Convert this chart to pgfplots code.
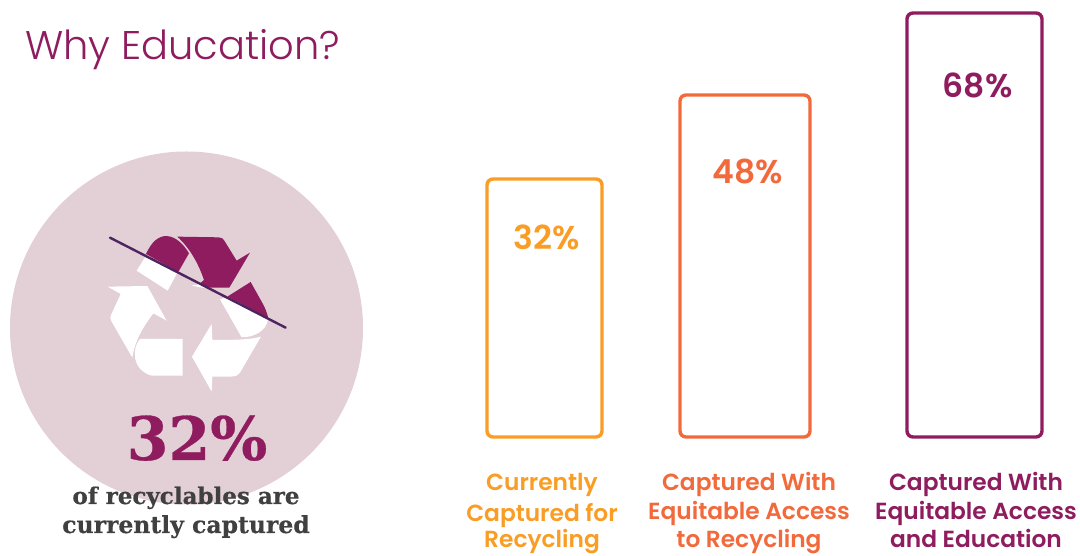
\documentclass[border=0pt]{standalone}
\usepackage{pgfplots}
\pgfplotsset{compat=1.18}
\usepackage{fontspec}
\setmainfont{Poppins}[UprightFont=* Light,BoldFont=* SemiBold]
\newfontfamily\serifbold{DejaVu Serif}[BoldFont=* Bold,BoldFeatures={FakeBold=0.5}]
\definecolor{plum}{HTML}{8E1C5E}
\definecolor{pale}{HTML}{E3CFD6}
\definecolor{amber}{HTML}{F99D25}
\definecolor{tang}{HTML}{F26A3B}
\definecolor{slashc}{HTML}{4F2360}
\definecolor{greyt}{HTML}{404040}
\newcommand{\px}[1]{\fontsize{#1}{#1}\selectfont}
\begin{document}
\begin{tikzpicture}[x=1pt,y=1pt]
\clip (0,0) rectangle (1080,556);
\fill[white] (0,0) rectangle (1080,556);
\begin{scope}[shift={(0pt,556pt)},x=1pt,y=-1pt]
\fill[pale] (186.5,328) circle (176.5);
\begin{scope}[shift={(90,220)},x=0.3333pt,y=-0.3333pt]
\fill[white] (53,200) -- (172,198) -- (230,302) -- (190,280) .. controls (160,320) and (135,360) .. (127,413) -- (65,305) .. controls (60,295) and (60,290) .. (63,285) -- (92,222) -- cycle;
\fill[white] (278,357) -- (150,357) .. controls (125,385) and (125,450) .. (185,467) -- (278,467) -- cycle;
\fill[white] (513,350) .. controls (480,360) and (420,360) .. (367,360) -- (365,312) -- (306,410) -- (365,515) -- (367,470) -- (420,470) .. controls (440,470) and (445,465) .. (450,458) -- cycle;
\fill[plum] (412,230) -- (482,186) -- (515,245) .. controls (525,262) and (532,280) .. (535,295) -- cycle;
\fill[white] (390,238) -- (412,230) -- (535,295) .. controls (530,335) and (490,352) .. (455,352) -- cycle;
\fill[plum] (262,50) -- (385,52) .. controls (395,52) and (400,56) .. (403,62) -- (440,122) -- (480,98) -- (418,203) -- (355,203) -- (330,190) -- (342,180) .. controls (325,130) and (300,85) .. (262,50) -- cycle;
\fill[white] (305,197) -- (332,192) -- (350,205) -- cycle;
\fill[plum] (168,102) .. controls (185,65) and (205,48) .. (230,48) .. controls (262,50) and (285,80) .. (297,100) -- (265,156) -- cycle;
\fill[white] (165,112) -- (140,152) -- (233,212) -- (262,158) -- cycle;
\draw[slashc,line width=2.4pt,line cap=round] (60,53) -- (587,323);
\end{scope}
\node[anchor=base west,text=plum,inner sep=0pt] at (25,60) {\px{40}Why Education?};
\node[anchor=base,text=plum,inner sep=0pt] at (197,460) {\serifbold\bfseries\px{60}32\%};
\node[anchor=base,text=greyt,inner sep=0pt] at (186,504) {\serifbold\bfseries\px{23}of recyclables are};
\node[anchor=base,text=greyt,inner sep=0pt] at (186,533) {\serifbold\bfseries\px{23.5}currently captured};
\end{scope}
\begin{axis}[at={(0,0)},anchor=south west,width=1080pt,height=556pt,scale only axis,hide axis,
  xmin=0,xmax=1080,ymin=-119,ymax=437,clip=false,
  ybar,bar shift=0pt,
  point meta=explicit symbolic,nodes near coords,
  every node near coord/.style={anchor=north,inner sep=0pt,font=\bfseries\px{33}}]
\addplot[draw=amber,fill=none,line width=3.4pt,rounded corners=6pt,bar width=115pt,
  every node near coord/.append style={text=amber,yshift=-44pt,xshift=2pt}]
  coordinates {(544.5,258) [32\%]};
\addplot[draw=tang,fill=none,line width=3.4pt,rounded corners=6pt,bar width=130pt,
  every node near coord/.append style={text=tang,yshift=-62pt,xshift=3pt}]
  coordinates {(745,342) [48\%]};
\addplot[draw=plum,fill=none,line width=3.4pt,rounded corners=6pt,bar width=135pt,
  every node near coord/.append style={text=plum,yshift=-58pt,xshift=3pt}]
  coordinates {(974.5,424) [68\%]};
\end{axis}
\begin{scope}[shift={(0pt,556pt)},x=1pt,y=-1pt,every node/.style={anchor=base,inner sep=0pt}]
\node[text=amber] at (542,491) {\bfseries\px{23.3}Currently};
\node[text=amber] at (542,522) {\bfseries\px{23.3}Captured for};
\node[text=amber] at (542,548) {\bfseries\px{23.3}Recycling};
\node[text=tang] at (749,491) {\bfseries\px{23.3}Captured With};
\node[text=tang] at (749,520) {\bfseries\px{23.3}Equitable Access};
\node[text=tang] at (749,548) {\bfseries\px{23.3}to Recycling};
\node[text=plum] at (976,491) {\bfseries\px{23.3}Captured With};
\node[text=plum] at (976,520) {\bfseries\px{23.3}Equitable Access};
\node[text=plum] at (976,548) {\bfseries\px{23.3}and Education};
\end{scope}
\end{tikzpicture}
\end{document}
